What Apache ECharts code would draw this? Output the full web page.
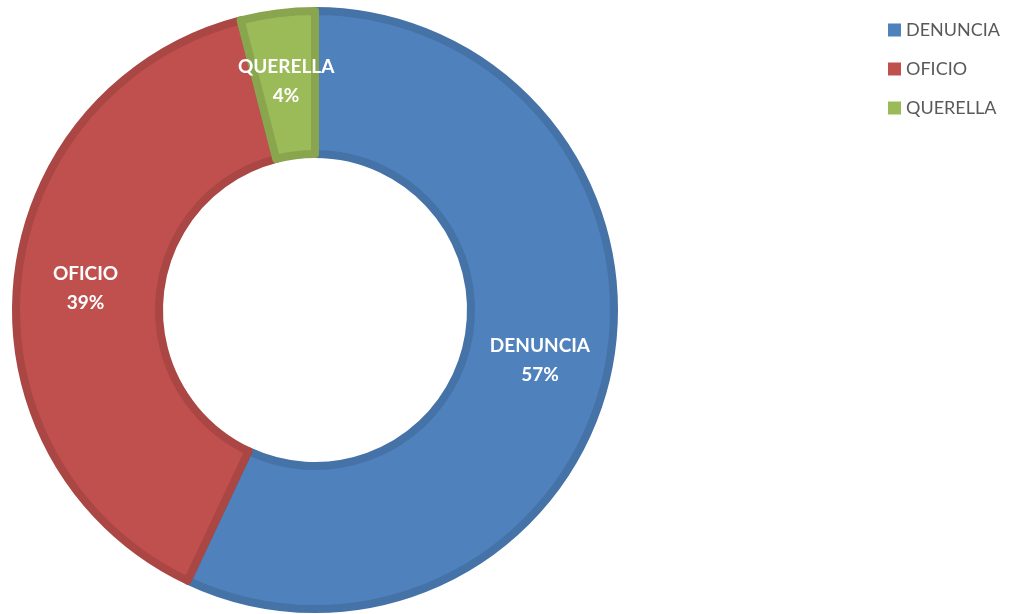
<!DOCTYPE html>
<html>
<head>
<meta charset="utf-8">
<script src="https://cdn.jsdelivr.net/npm/echarts@6/dist/echarts.min.js"></script>
<style>
  html, body { margin: 0; padding: 0; background: #fff; }
  #chart { width: 1019px; height: 614px; }
</style>
</head>
<body>
<div id="chart"></div>
<script>
// categories and values
var categories = ['DENUNCIA', 'OFICIO', 'QUERELLA'];
var values = [57, 39, 4];
var colors = ['#4F81BD', '#C0504D', '#9BBB59'];
var borders = ['#4572A7', '#AA4643', '#89A54E'];

var chart = echarts.init(document.getElementById('chart'));

var data = categories.map(function (name, i) {
  return {
    name: name,
    value: values[i],
    itemStyle: { color: colors[i], borderColor: borders[i], borderWidth: 8 }
  };
});

chart.setOption({
  animation: false,
  legend: {
    orient: 'vertical',
    left: 883,
    top: 16,
    itemWidth: 13,
    itemHeight: 13,
    itemGap: 21,
    icon: 'rect',
    itemStyle: { borderWidth: 0 },
    textStyle: { color: '#595959', fontSize: 18, fontFamily: 'Lato' },
    data: categories
  },
  series: [{
    type: 'pie',
    center: [315, 310],
    radius: [156, 299],
    startAngle: 90,
    clockwise: true,
    data: data,
    label: {
      show: true,
      position: 'inside',
      formatter: '{b}\n{d}%',
      color: '#fff',
      fontWeight: 'bold',
      fontSize: 19,
      lineHeight: 29,
      fontFamily: 'Lato'
    },
    labelLine: { show: false },
    emphasis: { disabled: true }
  }]
});
</script>
</body>
</html>
